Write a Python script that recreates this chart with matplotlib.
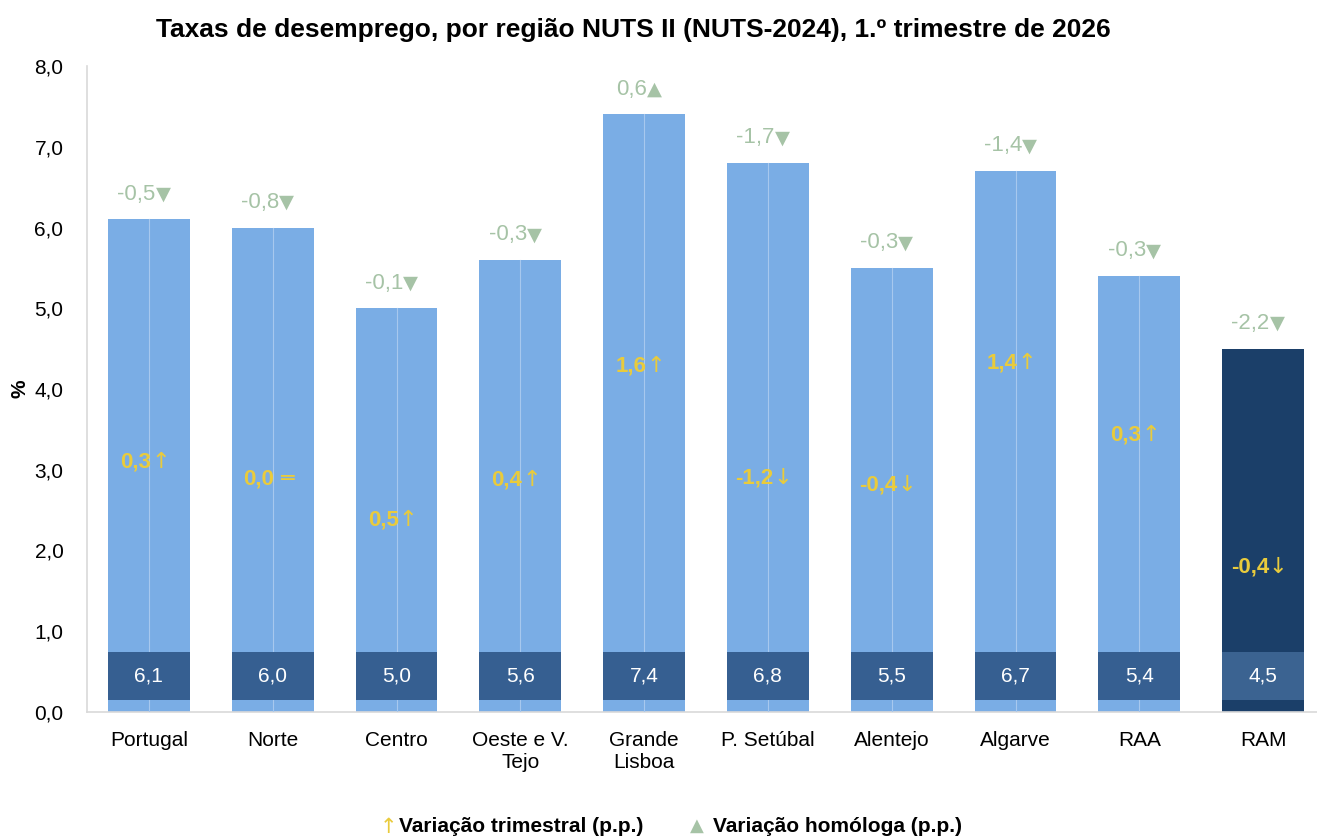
import matplotlib
matplotlib.use("Agg")
import matplotlib.pyplot as plt
from matplotlib.font_manager import FontProperties

plt.rcParams['font.family'] = ['Liberation Sans', 'DejaVu Sans']

categories = ["Portugal", "Norte", "Centro", "Oeste e V.\nTejo", "Grande\nLisboa",
              "P. Setúbal", "Alentejo", "Algarve", "RAA", "RAM"]
rates = [6.1, 6.0, 5.0, 5.6, 7.4, 6.8, 5.5, 6.7, 5.4, 4.5]
var_trimestral = [0.3, 0.0, 0.5, 0.4, 1.6, -1.2, -0.4, 1.4, 0.3, -0.4]
var_homologa = [-0.5, -0.8, -0.1, -0.3, 0.6, -1.7, -0.3, -1.4, -0.3, -2.2]
# heights (in %) where the quarterly-change labels sit inside the bars
trim_label_y = [3.1, 2.89, 2.38, 2.87, 4.28, 2.9, 2.81, 4.32, 3.43, 1.8]
yticks = [0, 1, 2, 3, 4, 5, 6, 7, 8]

LIGHT = "#7aade5"
DARK = "#1b3f69"
BOX = "#365f91"
BOX_RAM = "#3b6391"
CLINE = "#a7c8ee"
GREEN = "#a6c3a6"
YELLOW = "#e9cb3c"


def fmt(v):
    return f"{v:.1f}".replace(".", ",")


fig = plt.figure(figsize=(13.17, 8.39), dpi=100)
ax = fig.add_axes([87 / 1317, (839 - 712) / 839, (1317 - 87) / 1317, (712 - 66) / 839])
renderer = fig.canvas.get_renderer()

x = list(range(len(categories)))
colors = [LIGHT] * (len(categories) - 1) + [DARK]
w = 0.66
ax.bar(x, rates, width=w, color=colors, zorder=2)


def text_width_px(s, prop):
    wpx, _, _ = renderer.get_text_width_height_descent(s, prop, ismath=False)
    return wpx


def paired_label(xc, y, s1, s2, color, size, weight1, size2, shift_px):
    """Draw s1 followed by s2, centred as a group on xc (+shift)."""
    p1 = FontProperties(family=['Liberation Sans'], size=size, weight=weight1)
    p2 = FontProperties(family=['DejaVu Sans'], size=size2)
    w1 = text_width_px(s1, p1)
    w2 = text_width_px(s2, p2)
    left = -(w1 + w2) / 2 + shift_px
    k = 72 / fig.dpi
    ax.annotate(s1, xy=(xc, y), xytext=(left * k, 0), textcoords="offset points",
                ha="left", va="center", color=color, fontproperties=p1, zorder=6)
    ax.annotate(s2, xy=(xc, y), xytext=((left + w1) * k, 0),
                textcoords="offset points", ha="left", va="center", color=color,
                fontproperties=p2, zorder=6)


for i, r in enumerate(rates):
    if i < len(rates) - 1:
        ax.plot([i, i], [0, r], color=CLINE, lw=0.8, zorder=3)
    bc = BOX_RAM if i == len(rates) - 1 else BOX
    ax.bar(i, 0.59, bottom=0.15, width=w, color=bc, zorder=4)
    ax.text(i, 0.445, fmt(r), ha="center", va="center", color="white",
            fontsize=15, zorder=5)
    # homologous change
    h = var_homologa[i]
    sym = "▲" if h > 0 else "▼"
    paired_label(i, r + 0.31, fmt(h), sym, GREEN, 16, "normal", 14, -5)
    # quarterly change
    t = var_trimestral[i]
    sym = "↑" if t > 0 else ("↓" if t < 0 else " ═")
    paired_label(i, trim_label_y[i], fmt(t), sym, YELLOW, 16, "bold", 16, -4)

ax.set_xlim(-0.5, 9.5 - 8 / 123.8)
ax.set_ylim(0, 8)
ax.set_yticks(yticks)
ax.set_yticklabels([fmt(v) for v in yticks], fontsize=15)
ax.set_xticks(x)
ax.set_xticklabels(categories, fontsize=15, linespacing=1.15)
ax.tick_params(axis="both", length=0, colors="black")
ax.tick_params(axis="y", pad=17)
ax.tick_params(axis="x", pad=14)
for s in ["top", "right"]:
    ax.spines[s].set_visible(False)
ax.spines["left"].set_color("#d9d9d9")
ax.spines["bottom"].set_color("#d9d9d9")
ax.spines["left"].set_linewidth(1.2)
ax.spines["bottom"].set_linewidth(1.2)

ax.set_ylabel("%", fontsize=15, fontweight="bold")
ax.yaxis.set_label_coords(-58 / 1230, 0.5)

fig.text(633 / 1317, 1 - 30 / 839,
         "Taxas de desemprego, por região NUTS II (NUTS-2024), 1.º trimestre de 2026",
         ha="center", va="center", fontsize=19, fontweight="bold")

# legend
ly = 1 - 827 / 839
fig.text(380 / 1317, ly, "↑", color=YELLOW, fontsize=15, va="center", ha="left",
         family=['DejaVu Sans'])
fig.text(399 / 1317, ly, "Variação trimestral (p.p.)", color="black", fontsize=15,
         fontweight="bold", va="center", ha="left")
fig.text(690 / 1317, 1 - 826 / 839, "▲", color=GREEN, fontsize=13, va="center",
         ha="left", family=['DejaVu Sans'])
fig.text(713 / 1317, ly, "Variação homóloga (p.p.)", color="black", fontsize=15,
         fontweight="bold", va="center", ha="left")

fig.savefig("out.png", dpi=100)
